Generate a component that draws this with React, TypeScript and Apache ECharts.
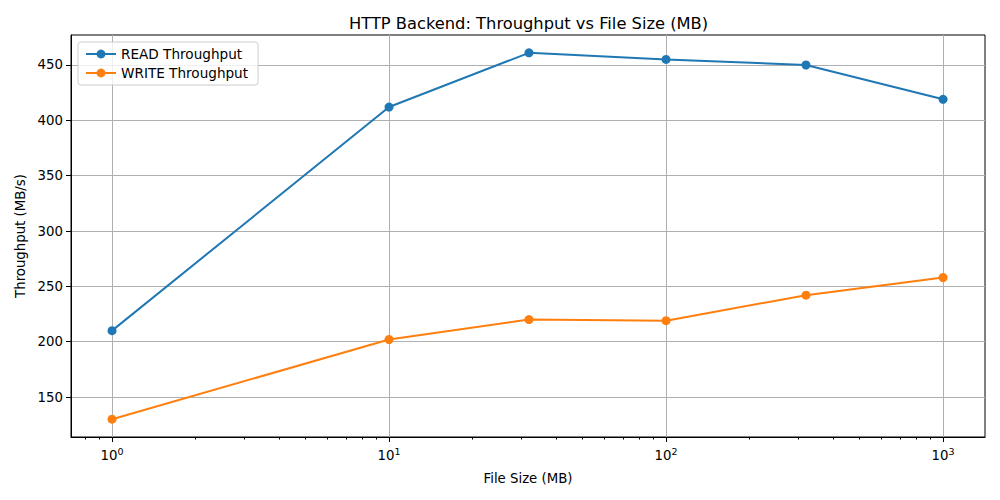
import React, { useEffect, useRef } from "react";
import * as echarts from "echarts";

const fileSizes = [1, 10, 32, 100, 320, 1000];
const readThroughput = [210, 412, 461, 455, 450, 419];
const writeThroughput = [130, 202, 220, 219, 242, 258];
const xMajorTicks = [1, 10, 100, 1000];
const xMinorTicks = [
  0.8, 0.9,
  2, 3, 4, 5, 6, 7, 8, 9,
  20, 30, 40, 50, 60, 70, 80, 90,
  200, 300, 400, 500, 600, 700, 800, 900,
];
const yTicks = [150, 200, 250, 300, 350, 400, 450];

const FONT = "DejaVu Sans";

export default function App() {
  const ref = useRef<HTMLDivElement>(null);
  useEffect(() => {
    if (!ref.current) return;
    const chart = echarts.init(ref.current, null, { renderer: "svg" });
    const xMin = 0.711;
    const xMax = 1417;
    chart.setOption({
      animation: false,
      backgroundColor: "#ffffff",
      textStyle: { fontFamily: FONT },
      title: {
        text: "HTTP Backend: Throughput vs File Size (MB)",
        left: 344,
        top: 10,
        textStyle: { fontFamily: FONT, fontSize: 16.3, fontWeight: "normal", color: "#000" },
      },
      legend: {
        left: 78,
        top: 42,
        orient: "vertical",
        itemWidth: 30,
        itemHeight: 11,
        itemGap: 5,
        padding: [5, 10, 5, 7],
        backgroundColor: "rgba(255,255,255,0.8)",
        borderColor: "#cccccc",
        borderWidth: 1,
        borderRadius: 3,
        textStyle: { fontFamily: FONT, fontSize: 13.6, color: "#000" },
        data: ["READ Throughput", "WRITE Throughput"],
      },
      grid: {
        left: 71,
        right: 15,
        top: 35,
        bottom: 63,
        show: true,
        borderColor: "#000",
        borderWidth: 1,
        containLabel: false,
      },
      xAxis: [
        {
          type: "log",
          logBase: 10,
          min: xMin,
          max: xMax,
          name: "File Size (MB)",
          nameLocation: "middle",
          nameGap: 35,
          nameTextStyle: { fontFamily: FONT, fontSize: 13.3, color: "#000" },
          axisLine: { show: true, lineStyle: { color: "#000" } },
          axisTick: {
            show: true,
            length: 5,
            customValues: xMajorTicks,
            lineStyle: { color: "#000" },
          },
          axisLabel: {
            customValues: xMajorTicks,
            margin: 9,
            formatter: (v: number) => `{b|10}{s|${Math.round(Math.log10(v))}}`,
            rich: {
              b: { fontFamily: FONT, fontSize: 13.3, color: "#000", verticalAlign: "bottom" },
              s: { fontFamily: FONT, fontSize: 9.5, color: "#000", verticalAlign: "bottom", padding: [0, 0, 6, 0] },
            },
          },
          splitLine: { show: true, lineStyle: { color: "#b0b0b0", width: 1 } },
          minorTick: { show: false },
        },
        {
          type: "log",
          logBase: 10,
          min: xMin,
          max: xMax,
          position: "bottom",
          axisLine: { show: false },
          axisTick: {
            show: true,
            length: 2.5,
            customValues: xMinorTicks,
            lineStyle: { color: "#000" },
          },
          axisLabel: { show: false },
          splitLine: { show: false },
        },
      ],
      yAxis: {
        type: "value",
        min: 113.9,
        max: 477.1,
        name: "Throughput (MB/s)",
        nameLocation: "middle",
        nameGap: 44,
        nameTextStyle: { fontFamily: FONT, fontSize: 13.3, color: "#000" },
        axisLine: { show: true, lineStyle: { color: "#000" } },
        axisTick: { show: true, length: 5, customValues: yTicks, lineStyle: { color: "#000" } },
        axisLabel: {
          customValues: yTicks,
          margin: 8,
          fontFamily: FONT,
          fontSize: 13.3,
          color: "#000",
        },
        splitLine: { show: true, lineStyle: { color: "#b0b0b0", width: 1 } },
      },
      series: [
        {
          name: "READ Throughput",
          type: "line",
          xAxisIndex: 0,
          data: fileSizes.map((s, i) => [s, readThroughput[i]]),
          symbol: "circle",
          symbolSize: 9,
          itemStyle: { color: "#1f77b4" },
          lineStyle: { color: "#1f77b4", width: 2 },
        },
        {
          name: "WRITE Throughput",
          type: "line",
          xAxisIndex: 0,
          data: fileSizes.map((s, i) => [s, writeThroughput[i]]),
          symbol: "circle",
          symbolSize: 9,
          itemStyle: { color: "#ff7f0e" },
          lineStyle: { color: "#ff7f0e", width: 2 },
        },
      ],
    });
    return () => chart.dispose();
  }, []);
  return (
    <div
      ref={ref}
      style={{ position: "fixed", left: 0, top: 0, width: 1000, height: 500 }}
    />
  );
}
